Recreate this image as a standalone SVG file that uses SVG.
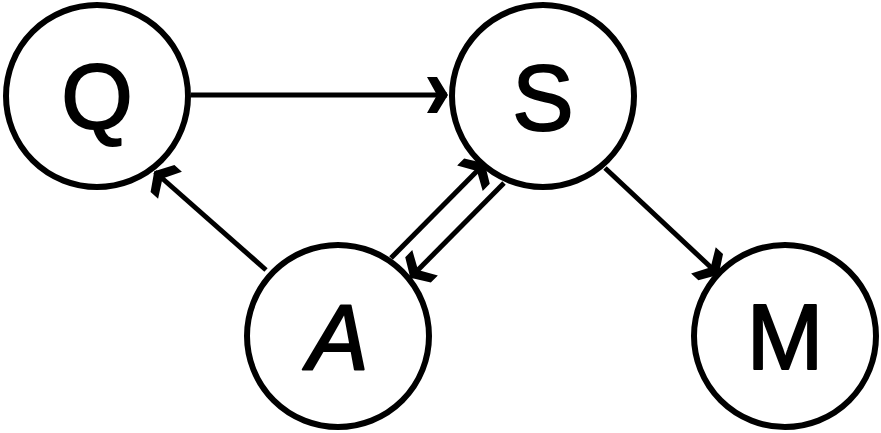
<svg xmlns="http://www.w3.org/2000/svg" width="881" height="433" viewBox="0 0 881 433">
  <style>
    .node circle { fill: #fff; stroke: #000; stroke-width: 6; }
    .node text { font-family: "Liberation Sans", "DejaVu Sans", sans-serif; font-size: 92px; text-anchor: middle; fill: #000; stroke: #000; stroke-width: 2; stroke-linejoin: round; }
    .edge { stroke: #000; stroke-width: 5; fill: none; }
  </style>
  <defs>
    <!-- chevron arrowhead, tip at the origin -->
    <marker id="barb" markerUnits="userSpaceOnUse" markerWidth="44" markerHeight="44" viewBox="-22 -22 44 44" refX="0" refY="0" orient="auto">
      <path d="M1,0 L-10,-18 L-20,-18 L-10,0 L-20,18 L-10,18 Z" fill="#000"/>
    </marker>
  </defs>

  <g id="edges">
    <line class="edge" marker-end="url(#barb)" x1="191" y1="95" x2="447" y2="95"/>
    <line class="edge" marker-end="url(#barb)" x1="266" y1="270" x2="155" y2="172"/>
    <line class="edge" marker-end="url(#barb)" x1="391" y1="258" x2="484" y2="164"/>
    <line class="edge" marker-end="url(#barb)" x1="504" y1="183" x2="411" y2="277"/>
    <line class="edge" marker-end="url(#barb)" x1="605" y1="168" x2="718" y2="274"/>
  </g>

  <g id="node-Q" class="node">
    <circle cx="97" cy="96" r="91"/>
    <text x="97" y="128">Q</text>
  </g>
  <g id="node-S" class="node">
    <circle cx="543" cy="96" r="91"/>
    <text x="543" y="130">S</text>
  </g>
  <g id="node-A" class="node">
    <circle cx="338" cy="336" r="91"/>
    <text x="338" y="370" font-style="italic">A</text>
  </g>
  <g id="node-M" class="node">
    <circle cx="785" cy="336" r="91"/>
    <text x="785" y="369">M</text>
  </g>
</svg>
